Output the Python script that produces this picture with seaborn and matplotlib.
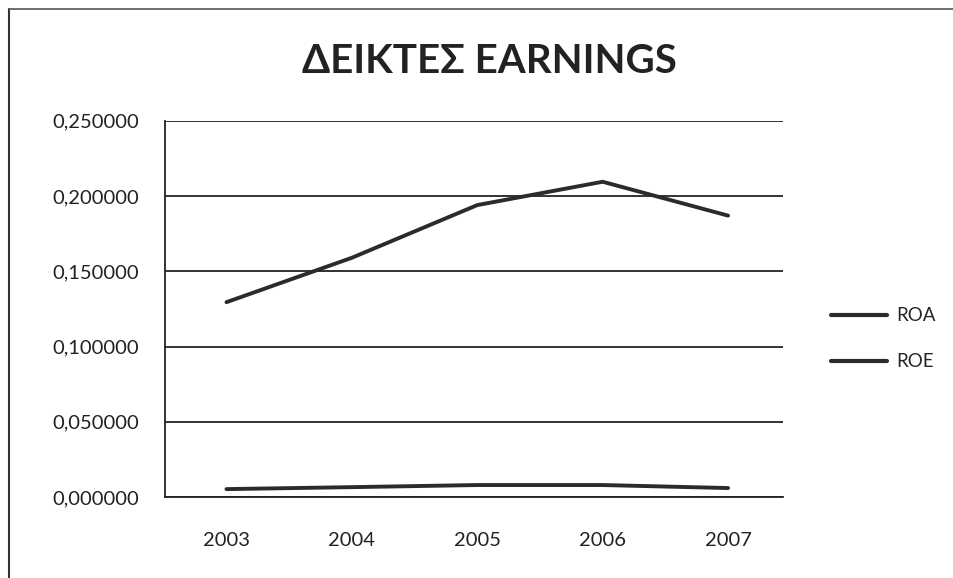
import matplotlib
matplotlib.use("Agg")
import matplotlib.pyplot as plt
import seaborn as sns
import pandas as pd
from matplotlib.lines import Line2D

years = ["2003", "2004", "2005", "2006", "2007"]
roa = [0.0053, 0.0066, 0.0080, 0.0080, 0.0060]
roe = [0.1295, 0.1590, 0.1940, 0.2095, 0.1870]
series_names = ["ROA", "ROE"]
y_ticks = [0.0, 0.05, 0.10, 0.15, 0.20, 0.25]
title = "ΔΕΙΚΤΕΣ EARNINGS"

df = pd.DataFrame({
    "year": years * 2,
    "value": roa + roe,
    "series": [series_names[0]] * len(years) + [series_names[1]] * len(years),
})

sns.set_theme(style="white")
plt.rcParams["font.family"] = ["Lato", "DejaVu Sans"]

fig = plt.figure(figsize=(9.54, 5.78), dpi=100)
ax = fig.add_axes([0.173, 0.140, 0.648, 0.651])

sns.lineplot(data=df, x="year", y="value", hue="series", sort=False,
             palette={"ROA": "#2b2b2b", "ROE": "#2b2b2b"}, linewidth=2.8,
             ax=ax, legend=False)

ax.set_ylim(0, 0.25)
ax.set_xlim(-0.49, 4.44)
ax.set_yticks(y_ticks)
ax.set_yticklabels([f"{v:.6f}".replace(".", ",") for v in y_ticks], fontsize=14.5, color="#222222")
ax.tick_params(axis="x", labelsize=14.5, colors="#222222", pad=25, length=0)
ax.tick_params(axis="y", pad=19, length=0)
ax.set_xlabel("")
ax.set_ylabel("")
ax.grid(axis="y", color="#222222", linewidth=1.3)
ax.grid(axis="x", visible=False)
for s in ["top", "right"]:
    ax.spines[s].set_visible(False)
for s in ["left", "bottom"]:
    ax.spines[s].set_color("#222222")
    ax.spines[s].set_linewidth(1.3)

fig.text(0.513, 0.893, title, ha="center", va="center", fontsize=29,
         fontweight="bold", color="#222222")

handles = [Line2D([0], [0], color="#2b2b2b", linewidth=3) for _ in series_names]
fig.legend(handles, series_names, loc="center left", bbox_to_anchor=(0.853, 0.414),
           frameon=False, fontsize=13.5, handlelength=3.0, labelspacing=1.55,
           handletextpad=0.5)

# chart border (left and top edges visible in the scan)
fig.add_artist(Line2D([0.0095, 0.0095], [0.0, 0.985], transform=fig.transFigure,
                      color="#333333", linewidth=1.5))
fig.add_artist(Line2D([0.0095, 1.0], [0.985, 0.985], transform=fig.transFigure,
                      color="#555555", linewidth=1.2))

fig.savefig("out.png", dpi=100)
